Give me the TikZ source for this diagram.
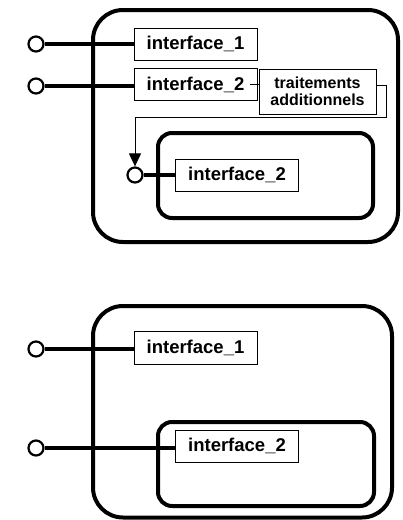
\documentclass[tikz,border=0pt]{standalone}
\usepackage{fontspec}
\setmainfont{Liberation Sans}
\usetikzlibrary{arrows.meta,positioning}

\begin{document}
\begin{tikzpicture}[
  x=1pt, y=-1pt,
  ibox/.style={rectangle, draw, line width=0.9pt, minimum width=123pt, minimum height=32pt, inner sep=0pt, font=\fontsize{18.5}{20}\selectfont\bfseries},
  tbox/.style={rectangle, draw, line width=0.9pt, minimum width=117pt, minimum height=45pt, inner sep=0pt, align=center, font=\fontsize{16}{17}\selectfont\bfseries},
  compbox/.style={draw, line width=4pt, rounded corners=30pt},
  subbox/.style={draw, line width=4pt, rounded corners=14pt},
  port/.style={circle, draw, line width=2.2pt, minimum size=15pt, inner sep=0pt, fill=white},
  wire/.style={line width=3.3pt},
  thinline/.style={line width=0.9pt},
  arr/.style={-{Triangle[length=13pt,width=12pt]}, line width=1pt}
]
\useasboundingbox (0,0) rectangle (403,520);

% Top: component with extra processing
\draw[compbox] (93,10) rectangle (398,242);
\draw[subbox] (158,133) rectangle (373,218);

\node[ibox] (ia) at (195.5,44) {interface\_1};
\node[ibox] (ib) at (195.5,84.75) {interface\_2};
\node[tbox] (trt) at (317.5,91.5) {traitements\\additionnels};
\node[ibox] (ic) at (237,175) {interface\_2};

\node[port] (pa) at (36,44) {};
\node[port] (pb) at (36,86) {};
\node[port] (pc) at (135,175) {};

\draw[wire] (pa) -- (pa -| ia.west);
\draw[wire] (pb) -- (pb -| ib.west);
\draw[wire] (pc) -- (pc -| ic.west);
\draw[thinline] ([xshift=-7pt]ib.east) -- (trt.west |- ib.east);

\coordinate (bend) at (386,117);
\draw[arr] ([yshift=6.5pt]trt.east) -| (bend) -| (pc.north);

% Bottom: component with delegated interface
\draw[compbox] (93,306) rectangle (392,517.5);
\draw[subbox] (158,422) rectangle (374,506);

\node[ibox, minimum height=33pt] (ja) at (195.5,347.5) {interface\_1};
\node[ibox] (jb) at (237,446) {interface\_2};

\node[port] (qa) at (36,349) {};
\node[port] (qb) at (36,448) {};

\draw[wire] (qa) -- (qa -| ja.west);
\draw[wire] (qb) -- (qb -| jb.west);

\end{tikzpicture}
\end{document}
